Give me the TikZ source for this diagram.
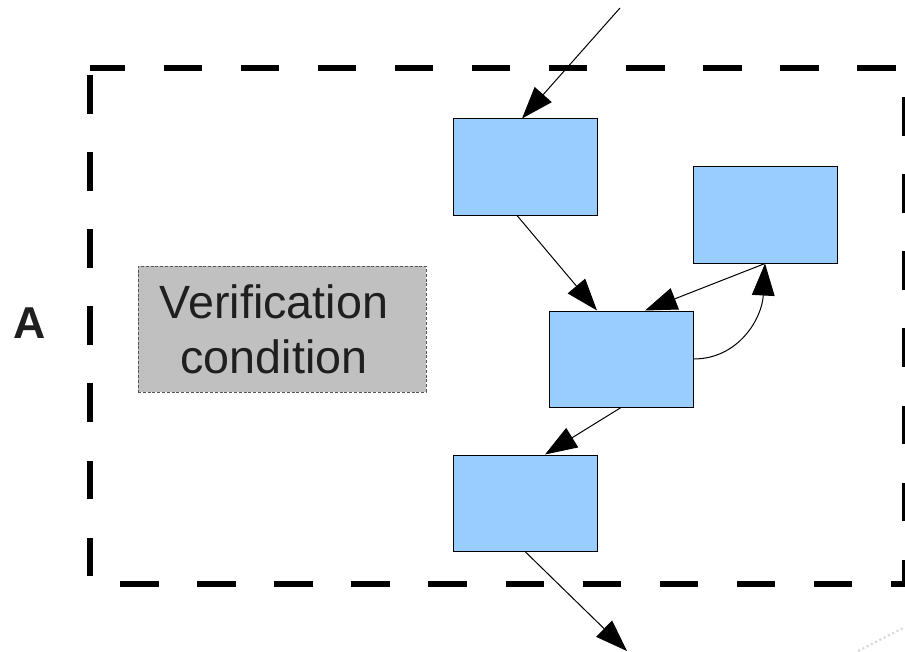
\documentclass[tikz,border=0pt]{standalone}
\usepackage{fontspec}
\setmainfont{Liberation Sans}
\usetikzlibrary{arrows.meta}
\definecolor{boxblue}{HTML}{99CCFF}
\definecolor{vcgray}{HTML}{C0C0C0}
\definecolor{vcborder}{HTML}{555555}
\definecolor{faint}{HTML}{D8D8D8}
\begin{document}
\begin{tikzpicture}[x=0.75pt,y=-0.75pt,
  bluebox/.style={draw=black, line width=0.75pt, fill=boxblue, minimum width=108pt, minimum height=72pt, inner sep=0pt},
  flow/.style={line width=0.75pt, -{Triangle[length=24pt,width=17pt]}},
  frame/.style={line width=4.5pt, dash pattern=on 28.9pt off 28.9pt, dash phase=2.25pt},
  vcbox/.style={draw=vcborder, line width=0.6pt, dash pattern=on 2.2pt off 1.4pt, fill=vcgray, minimum width=216pt, minimum height=94.5pt, inner sep=0pt},
  vctext/.style={align=center, font=\fontsize{35}{41}\selectfont, text=black!88, inner sep=0pt},
  biglabel/.style={font=\fontsize{33.5}{40}\selectfont\bfseries, text=black!88, inner sep=0pt},
]
\useasboundingbox (0,0) rectangle (905,652);
\clip (0,0) rectangle (905,652);
% outer dashed frame
\draw[frame] (89.5,68) -- (905,68) -- (905,584) -- (89.5,584) -- cycle;
% faint dotted trace, bottom right
\draw[faint, line width=1.6pt, dotted] (858,651) -- (905,627);
% label A
\node[biglabel] (lblA) at (30,323) {A};
% verification condition box
\node[vcbox] (vc) at (282,329) {};
\node[vctext] (vct) at (274,329) {Verification\\condition};
% blue boxes
\node[bluebox] (b1) at (525,167) {};
\node[bluebox] (b2) at (765,215) {};
\node[bluebox] (b3) at (621,359) {};
\node[bluebox] (b4) at (525,503) {};
% connectors
\coordinate (top) at (620,8);
\coordinate (bot) at (627,651);
\draw[flow] (top) -- ([xshift=-2.25pt]b1.north);
\draw[flow] ([xshift=-6pt]b1.south) -- ([xshift=-18pt]b3.north);
\draw[flow] (b2.south) -- ([xshift=18pt]b3.north);
\draw[flow] (b3.east) .. controls +(45,0) and +(-3,55) .. (b2.south);
\draw[flow] (b3.south) -- ([xshift=15pt]b4.north);
\draw[flow] (b4.south) -- (bot);
\end{tikzpicture}
\end{document}
